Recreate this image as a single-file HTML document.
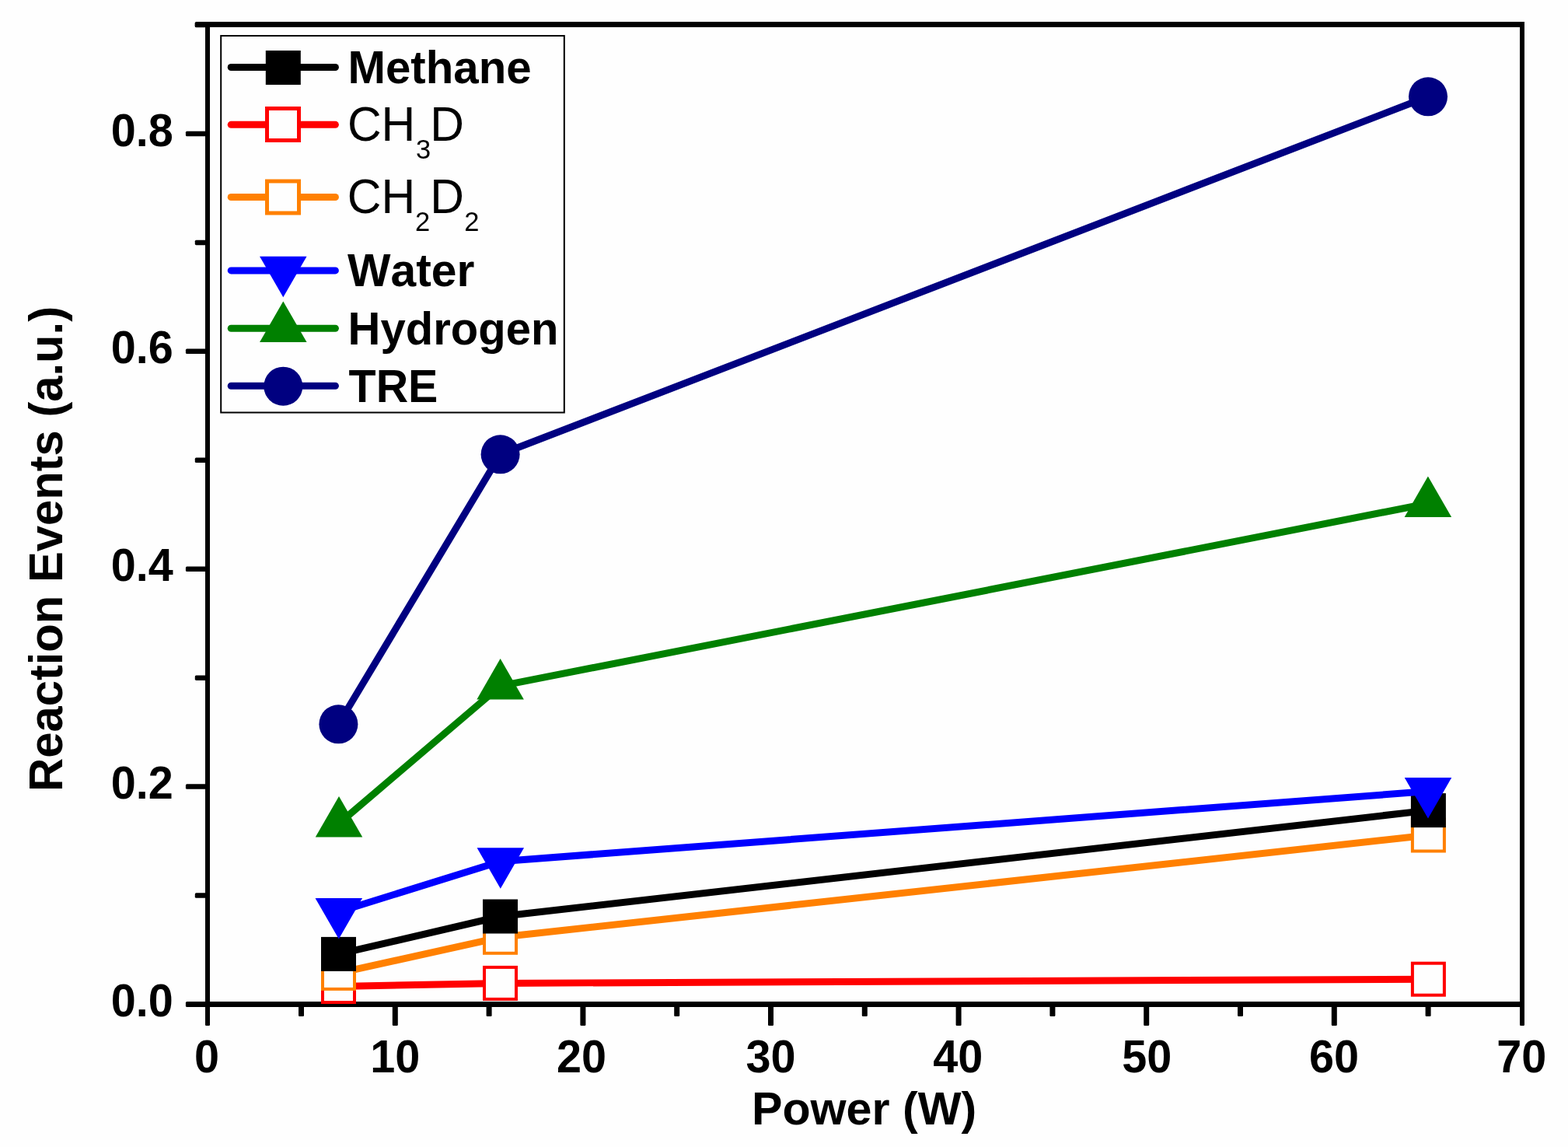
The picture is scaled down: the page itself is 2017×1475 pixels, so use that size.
<!DOCTYPE html>
<html><head><meta charset="utf-8"><title>Reaction Events vs Power</title>
<style>
html,body{margin:0;padding:0;background:#fefefe;width:2017px;height:1475px;overflow:hidden}
svg{display:block}
text{font-family:'Liberation Sans', Arial, Helvetica, sans-serif;fill:#000;font-kerning:none;font-variant-ligatures:none}
</style></head>
<body>
<svg width="2017" height="1475" viewBox="0 0 2017 1475">
<rect width="2017" height="1475" fill="#fefefe"/>
<g fill="#000"><rect x="264" y="28" width="1697" height="7"/><rect x="264" y="1288" width="1697" height="7"/><rect x="264" y="28" width="6" height="1267"/><rect x="1955" y="28" width="6" height="1267"/><rect x="238.9" y="1288.00" width="27.1" height="7" rx="1.6"/><rect x="250.8" y="1148.31" width="15.2" height="6.5" rx="1.6"/><rect x="238.9" y="1008.37" width="27.1" height="6.5" rx="1.6"/><rect x="250.8" y="868.43" width="15.2" height="6.5" rx="1.6"/><rect x="238.9" y="728.49" width="27.1" height="6.5" rx="1.6"/><rect x="250.8" y="588.55" width="15.2" height="6.5" rx="1.6"/><rect x="238.9" y="448.61" width="27.1" height="6.5" rx="1.6"/><rect x="250.8" y="308.67" width="15.2" height="6.5" rx="1.6"/><rect x="238.9" y="168.73" width="27.1" height="6.5" rx="1.6"/><rect x="250.8" y="28.79" width="15.2" height="6.5" rx="1.6"/><rect x="250.8" y="28" width="16" height="7" rx="1.6"/><rect x="264.00" y="1292" width="6" height="26.9" rx="1.2"/><rect x="384.00" y="1292" width="7" height="15.0" rx="1.2"/><rect x="504.80" y="1292" width="7" height="26.9" rx="1.2"/><rect x="625.60" y="1292" width="7" height="15.0" rx="1.2"/><rect x="746.40" y="1292" width="7" height="26.9" rx="1.2"/><rect x="867.20" y="1292" width="7" height="15.0" rx="1.2"/><rect x="988.00" y="1292" width="7" height="26.9" rx="1.2"/><rect x="1108.80" y="1292" width="7" height="15.0" rx="1.2"/><rect x="1229.60" y="1292" width="7" height="26.9" rx="1.2"/><rect x="1350.40" y="1292" width="7" height="15.0" rx="1.2"/><rect x="1471.20" y="1292" width="7" height="26.9" rx="1.2"/><rect x="1592.00" y="1292" width="7" height="15.0" rx="1.2"/><rect x="1712.80" y="1292" width="7" height="26.9" rx="1.2"/><rect x="1833.60" y="1292" width="7" height="15.0" rx="1.2"/><rect x="1955.00" y="1292" width="6" height="26.9" rx="1.2"/></g>
<g><polyline points="435.5,1268.5 643.5,1264.4 1837.4,1259.2" fill="none" stroke="#ff0000" stroke-width="9" stroke-linejoin="round"/><rect x="415.00" y="1248.00" width="41" height="41" fill="#fefefe" stroke="#ff0000" stroke-width="4"/><rect x="623.00" y="1243.90" width="41" height="41" fill="#fefefe" stroke="#ff0000" stroke-width="4"/><rect x="1816.90" y="1238.70" width="41" height="41" fill="#fefefe" stroke="#ff0000" stroke-width="4"/><polyline points="435.5,1251.4 643.5,1205.3 1837.4,1074.0" fill="none" stroke="#ff8000" stroke-width="9" stroke-linejoin="round"/><rect x="415.00" y="1230.90" width="41" height="41" fill="#fefefe" stroke="#ff8000" stroke-width="4"/><rect x="623.00" y="1184.80" width="41" height="41" fill="#fefefe" stroke="#ff8000" stroke-width="4"/><rect x="1816.90" y="1053.50" width="41" height="41" fill="#fefefe" stroke="#ff8000" stroke-width="4"/><polyline points="435.5,1226.9 643.5,1178.5 1837.4,1042.1" fill="none" stroke="#000000" stroke-width="9" stroke-linejoin="round"/><rect x="413.00" y="1204.90" width="45" height="44" fill="#000000"/><rect x="621.00" y="1156.50" width="45" height="44" fill="#000000"/><rect x="1814.90" y="1020.10" width="45" height="44" fill="#000000"/><polyline points="435.8,1172.5 643.8,1107.7 1837.0,1017.6" fill="none" stroke="#0000ff" stroke-width="9" stroke-linejoin="round"/><polygon points="405.55,1155.00 466.05,1155.00 435.80,1207.50" fill="#0000ff"/><polygon points="613.55,1090.20 674.05,1090.20 643.80,1142.70" fill="#0000ff"/><polygon points="1806.75,1000.10 1867.25,1000.10 1837.00,1052.60" fill="#0000ff"/><polyline points="436.0,1059.0 643.6,882.1 1836.9,647.5" fill="none" stroke="#008000" stroke-width="9" stroke-linejoin="round"/><polygon points="436.00,1024.00 466.25,1076.50 405.75,1076.50" fill="#008000"/><polygon points="643.60,847.10 673.85,899.60 613.35,899.60" fill="#008000"/><polygon points="1836.90,612.50 1867.15,665.00 1806.65,665.00" fill="#008000"/><polyline points="435.4,931.3 643.6,584.3 1837.0,124.3" fill="none" stroke="#000080" stroke-width="9" stroke-linejoin="round"/><circle cx="435.40" cy="931.30" r="25" fill="#000080"/><circle cx="643.60" cy="584.30" r="25" fill="#000080"/><circle cx="1837.00" cy="124.30" r="25" fill="#000080"/></g>
<g><rect x="284.2" y="46" width="441.6" height="484.5" fill="none" stroke="#000" stroke-width="2"/><line x1="297.2" y1="86.5" x2="431.4" y2="86.5" stroke="#000000" stroke-width="9" stroke-linecap="round"/><rect x="341.80" y="65.00" width="45" height="44" fill="#000000"/><line x1="297.2" y1="160.35" x2="431.4" y2="160.35" stroke="#ff0000" stroke-width="9" stroke-linecap="round"/><rect x="343.50" y="139.50" width="41" height="41" fill="#fefefe" stroke="#ff0000" stroke-width="5"/><line x1="297.2" y1="253.55" x2="431.4" y2="253.55" stroke="#ff8000" stroke-width="9" stroke-linecap="round"/><rect x="343.50" y="233.00" width="41" height="41" fill="#fefefe" stroke="#ff8000" stroke-width="5"/><line x1="297.2" y1="347.9" x2="431.4" y2="347.9" stroke="#0000ff" stroke-width="9" stroke-linecap="round"/><polygon points="334.05,329.80 394.55,329.80 364.30,382.30" fill="#0000ff"/><line x1="297.2" y1="422.3" x2="431.4" y2="422.3" stroke="#008000" stroke-width="9" stroke-linecap="round"/><polygon points="364.30,387.50 394.55,440.00 334.05,440.00" fill="#008000"/><line x1="297.2" y1="496.3" x2="431.4" y2="496.3" stroke="#000080" stroke-width="9" stroke-linecap="round"/><circle cx="364.30" cy="496.70" r="25" fill="#000080"/></g>
<g><text transform="translate(142.72,1307.10) scale(1,1.0220)" font-size="57.6" font-weight="bold">0.0</text><text transform="translate(142.72,1027.22) scale(1,1.0220)" font-size="57.6" font-weight="bold">0.2</text><text transform="translate(142.72,747.34) scale(1,1.0220)" font-size="57.6" font-weight="bold">0.4</text><text transform="translate(142.72,467.46) scale(1,1.0220)" font-size="57.6" font-weight="bold">0.6</text><text transform="translate(142.72,187.58) scale(1,1.0220)" font-size="57.6" font-weight="bold">0.8</text><text transform="translate(249.92,1379.20) scale(1,1.0220)" font-size="57.6" font-weight="bold">0</text><text transform="translate(476.17,1379.20) scale(1,1.0220)" font-size="57.6" font-weight="bold">10</text><text transform="translate(716.10,1379.20) scale(1,1.0220)" font-size="57.6" font-weight="bold">20</text><text transform="translate(959.48,1379.20) scale(1,1.0220)" font-size="57.6" font-weight="bold">30</text><text transform="translate(1200.23,1379.20) scale(1,1.0220)" font-size="57.6" font-weight="bold">40</text><text transform="translate(1443.23,1379.20) scale(1,1.0220)" font-size="57.6" font-weight="bold">50</text><text transform="translate(1683.89,1379.20) scale(1,1.0220)" font-size="57.6" font-weight="bold">60</text><text transform="translate(1925.33,1379.20) scale(1,1.0220)" font-size="57.6" font-weight="bold">70</text><text transform="translate(966.94,1446.00) scale(1,1.0100)" font-size="59.2" font-weight="bold">Power (W)</text><text transform="translate(79.90,1017.90) rotate(-90) scale(1,1.0200)" font-size="59.74" font-weight="bold">Reaction Events (a.u.)</text><text transform="translate(447.40,107.20) scale(1,1.0150)" font-size="58.25" font-weight="bold">Methane</text><text transform="translate(447.04,368.20) scale(1,1.0150)" font-size="58.83" font-weight="bold">Water</text><text transform="translate(447.62,443.20) scale(1,1.0150)" font-size="58.04" font-weight="bold">Hydrogen</text><text transform="translate(448.55,517.10) scale(1,1.0150)" font-size="57.44" font-weight="bold">TRE</text><text transform="translate(446.93,181.10) scale(1,1.0400)" font-size="60.5" font-weight="normal">CH</text><text transform="translate(534.94,203.60) scale(1,1.0250)" font-size="34.5" font-weight="normal">3</text><text transform="translate(553.34,181.10) scale(1,1.0400)" font-size="60.5" font-weight="normal">D</text><text transform="translate(446.83,273.90) scale(1,1.0400)" font-size="60.5" font-weight="normal">CH</text><text transform="translate(533.96,296.90) scale(1,1.0250)" font-size="34.5" font-weight="normal">2</text><text transform="translate(553.24,273.90) scale(1,1.0400)" font-size="60.5" font-weight="normal">D</text><text transform="translate(597.36,296.90) scale(1,1.0250)" font-size="34.5" font-weight="normal">2</text></g>
</svg>
</body></html>
